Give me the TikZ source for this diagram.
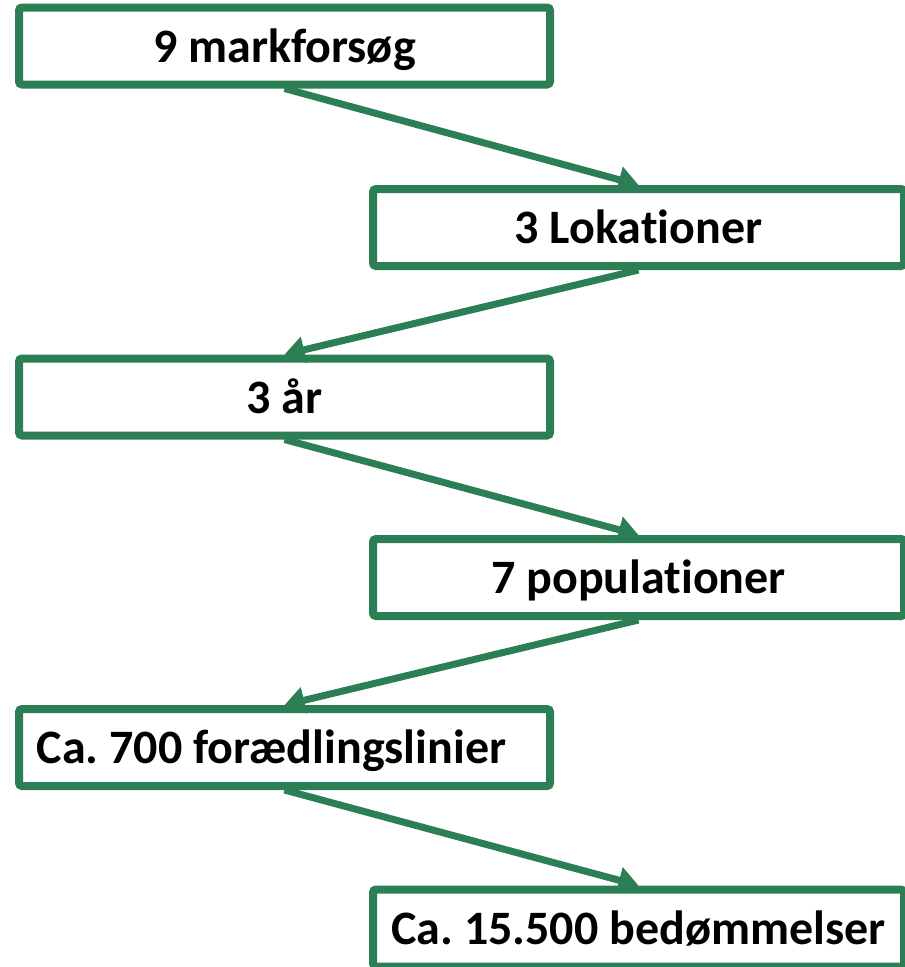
\documentclass[tikz,border=0pt]{standalone}
\usepackage{fontspec}
\setmainfont{Carlito}[Ligatures={NoCommon,NoContextual,NoRare}]
\frenchspacing
\usetikzlibrary{arrows.meta}
\definecolor{boxgreen}{RGB}{44,127,84}
\begin{document}
\begin{tikzpicture}[x=1pt,y=-1pt,
  stepbox/.style={draw=boxgreen, line width=8pt, fill=white, rounded corners=3pt,
    minimum width=531pt, minimum height=77pt, inner sep=0pt, outer sep=4pt,
    text height=32pt, text depth=0pt,
    font=\fontsize{48pt}{58pt}\selectfont\bfseries},
  flow/.style={draw=boxgreen, line width=7pt, -{Triangle[length=20pt,width=26pt]}}]
\useasboundingbox (0,0) rectangle (905,967);
\node[stepbox] (b1) at (284.5,46) {9 markforsøg};
\node[stepbox] (b2) at (638.5,227.5) {3 Lokationer};
\node[stepbox] (b3) at (284.5,397) {3 år};
\node[stepbox] (b4) at (638.5,577.5) {7 populationer};
\node[stepbox] (b5) at (284.5,747.5) {Ca. 700 forædlingslinier\hspace*{26pt}};
\node[stepbox] (b6) at (638.5,928) {Ca. 15.500 bedømmelser};
\draw[flow] (b1.south) -- (b2.north);
\draw[flow] (b2.south) -- (b3.north);
\draw[flow] (b3.south) -- (b4.north);
\draw[flow] (b4.south) -- (b5.north);
\draw[flow] (b5.south) -- (b6.north);
\end{tikzpicture}
\end{document}
